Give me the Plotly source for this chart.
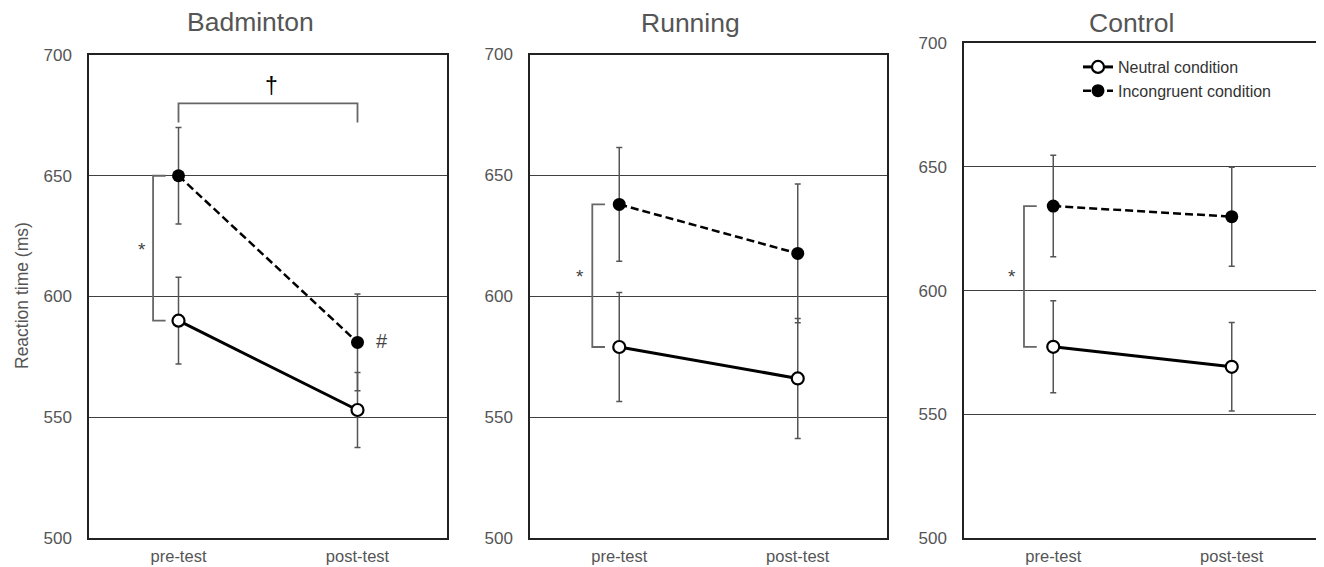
import plotly.graph_objects as go

# ---- data ----
panels = ["Badminton", "Running", "Control"]
phases = ["pre-test", "post-test"]

neutral_mean = {"Badminton": [590, 553], "Running": [579, 566], "Control": [577.3, 569.2]}
neutral_err = {"Badminton": [18, 15.5], "Running": [22.5, 24.8], "Control": [18.6, 17.9]}
incong_mean = {"Badminton": [650, 581], "Running": [638, 617.7], "Control": [634.2, 629.9]}
incong_err = {"Badminton": [20, 20], "Running": [23.5, 28.7], "Control": [20.5, 20]}

y_ticks = [500, 550, 600, 650, 700]
series_names = ["Neutral condition", "Incongruent condition"]

# page body adds an 8px margin; figure is sized to fit inside the window
OFF = 8
W, H = 1316, 559
TXT = "#555555"
FONT = "Liberation Sans, Arial, Helvetica, sans-serif"


def fx(px):
    return (px - OFF) / W


def fy(py):
    return 1 - (py - OFF) / H


# pixel boxes for panels in the window (left, right, top, bottom)
boxes = [(89, 447, 55, 538), (530, 887, 54.5, 538), (964, 1321, 43.3, 538)]
title_x = [250.8, 690.5, 1131]
title_y = [22, 22.7, 23.3]

fig = go.Figure()

for i, p in enumerate(panels):
    xa = "x" if i == 0 else f"x{i+1}"
    ya = "y" if i == 0 else f"y{i+1}"
    show = (i == 2)
    fig.add_trace(go.Scatter(
        x=[0, 1], y=neutral_mean[p], xaxis=xa, yaxis=ya,
        name=series_names[0], showlegend=show, legendrank=1,
        mode="lines+markers",
        line=dict(color="black", width=3),
        marker=dict(symbol="circle", size=12, color="white",
                    line=dict(color="black", width=2.2)),
        error_y=dict(type="data", array=neutral_err[p], color="#555555",
                     thickness=1.5, width=3),
    ))
    fig.add_trace(go.Scatter(
        x=[0, 1], y=incong_mean[p], xaxis=xa, yaxis=ya,
        name=series_names[1], showlegend=show, legendrank=2,
        mode="lines+markers",
        line=dict(color="black", width=2.5, dash="8px,4px"),
        marker=dict(symbol="circle", size=13, color="black",
                    line=dict(color="black", width=0)),
        error_y=dict(type="data", array=incong_err[p], color="#555555",
                     thickness=1.5, width=3),
    ))

layout = dict(
    width=W, height=H, autosize=False,
    margin=dict(l=0, r=0, t=0, b=0, pad=0, autoexpand=False),
    paper_bgcolor="white", plot_bgcolor="white",
    font=dict(family=FONT, color=TXT),
    showlegend=True,
    legend=dict(x=fx(1078), y=fy(50), xanchor="left", yanchor="top",
                bgcolor="rgba(0,0,0,0)", font=dict(size=16, color="#333333"),
                tracegroupgap=0, itemwidth=30),
)

for i, (l, r, t, b) in enumerate(boxes):
    xk = "xaxis" if i == 0 else f"xaxis{i+1}"
    yk = "yaxis" if i == 0 else f"yaxis{i+1}"
    xa = "x" if i == 0 else f"x{i+1}"
    ya = "y" if i == 0 else f"y{i+1}"
    layout[xk] = dict(
        domain=[fx(l), min(fx(r), 1.0)], anchor=ya, range=[-0.5, 1.5],
        tickvals=[0, 1], ticktext=phases, showgrid=False, zeroline=False,
        showline=True, mirror=True, linecolor="#222222", linewidth=1.5,
        ticks="", tickfont=dict(size=16.5, color=TXT), ticklabelstandoff=2,
        fixedrange=True, automargin=False,
    )
    layout[yk] = dict(
        domain=[fy(b), fy(t)], anchor=xa, range=[500, 700],
        tickvals=y_ticks, showgrid=True, gridcolor="#404040", gridwidth=1,
        zeroline=False, showline=True, mirror=True, linecolor="#222222",
        linewidth=1.5, ticks="", tickfont=dict(size=17, color=TXT),
        ticklabelstandoff=12, fixedrange=True, automargin=False,
    )

fig.update_layout(**layout)

annotations = []
shapes = []

for i, p in enumerate(panels):
    annotations.append(dict(
        text=p, x=fx(title_x[i]), y=fy(title_y[i]), xref="paper", yref="paper",
        xanchor="center", yanchor="middle", showarrow=False,
        font=dict(size=26.5, color=TXT),
    ))

annotations.append(dict(
    text="Reaction time (ms)", x=fx(22), y=fy(296), xref="paper", yref="paper",
    textangle=-90, xanchor="center", yanchor="middle", showarrow=False,
    font=dict(size=17.5, color=TXT),
))

# bracket for pre-test difference (*), per panel
bracket_x = [(-0.142, -0.072), (-0.151, -0.08), (-0.164, -0.0925)]
star_pos = [(-0.206, 619.5), (-0.22, 608), (-0.232, 605.6)]
for i, p in enumerate(panels):
    xa = "x" if i == 0 else f"x{i+1}"
    ya = "y" if i == 0 else f"y{i+1}"
    x0, x1 = bracket_x[i]
    ytop = incong_mean[p][0]
    ybot = neutral_mean[p][0]
    shapes.append(dict(
        type="path", xref=xa, yref=ya,
        path=f"M {x1},{ytop} L {x0},{ytop} L {x0},{ybot} L {x1},{ybot}",
        line=dict(color="#666666", width=1.8),
    ))
    annotations.append(dict(
        text="*", x=star_pos[i][0], y=star_pos[i][1], xref=xa, yref=ya,
        showarrow=False, font=dict(size=19, color="#444444"),
        xanchor="center", yanchor="middle",
    ))

# Badminton: dagger bracket across time (incongruent) and # at post-test
shapes.append(dict(
    type="path", xref="x", yref="y",
    path="M 0,672 L 0,680 L 1,680 L 1,672",
    line=dict(color="#666666", width=1.8),
))
annotations.append(dict(
    text="†", x=0.52, y=687, xref="x", yref="y", showarrow=False,
    font=dict(size=23, color="black"), xanchor="center", yanchor="middle",
))
annotations.append(dict(
    text="#", x=1.135, y=581.5, xref="x", yref="y", showarrow=False,
    font=dict(size=20, color="#444444"), xanchor="center", yanchor="middle",
))

fig.update_layout(annotations=annotations, shapes=shapes)
fig.write_html("out.html")
